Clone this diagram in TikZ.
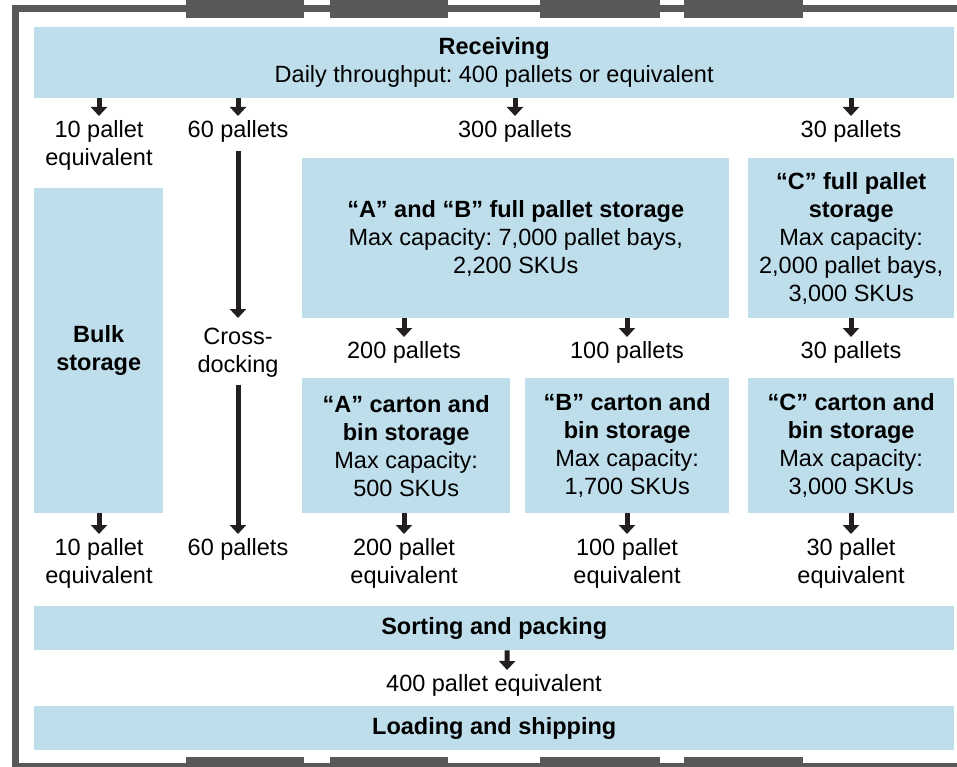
\documentclass[tikz,border=0pt]{standalone}
\usepackage{fontspec}
\setmainfont{Liberation Sans}
\usepackage{tikz}
\usetikzlibrary{arrows,calc,arrows.meta,positioning}
\definecolor{wall}{HTML}{58595B}
\definecolor{boxblue}{HTML}{BFDEEC}
\definecolor{ink}{HTML}{231F20}
\frenchspacing

\begin{document}
\begin{tikzpicture}[x=1pt,y=-1pt,>={Triangle[length=9pt,width=16pt]},
    area/.style={fill=boxblue,inner sep=0pt,anchor=north west,align=center,font=\fontsize{23.5}{28}\selectfont},
    lbl/.style={inner sep=0pt,anchor=north,align=center,font=\fontsize{23.5}{28}\selectfont},
    flow/.style={->,draw=ink,fill=ink,line width=5pt}]
        \newcommand{\gap}{4pt}
        \clip (0,0) rectangle (957,767);
        % walls and dock doors
        \draw[wall,line width=7pt] (15.5,8.5) rectangle (970,766);
        \foreach \x/\w in {186/118,330/118,540/120,684/119}{
            \fill[wall] (\x,0) rectangle ++(\w,18);
            \fill[wall] (\x,757) rectangle ++(\w,10);
        }

        % areas
        \node[area,minimum width=920pt,minimum height=71pt] (rcv) at (34,27) {\textbf{Receiving}\\Daily throughput: 400 pallets or equivalent};
        \node[area,minimum width=129pt,minimum height=325pt] (bulk) at (34,188) {\textbf{Bulk}\\\textbf{storage}};
        \node[area,minimum width=427pt,minimum height=160pt] (abfull) at (302,158) {\textbf{“A” and “B” full pallet storage}\\Max capacity: 7,000 pallet bays,\\2,200 SKUs};
        \node[area,minimum width=206pt,minimum height=160pt] (cfull) at (748,158) {\textbf{“C” full pallet}\\\textbf{storage}\\Max capacity:\\2,000 pallet bays,\\3,000 SKUs};
        \node[area,minimum width=208pt,minimum height=135pt] (acart) at (302,378) {\textbf{“A” carton and}\\\textbf{bin storage}\\Max capacity:\\500 SKUs};
        \node[area,minimum width=204pt,minimum height=135pt] (bcart) at (525,378) {\textbf{“B” carton and}\\\textbf{bin storage}\\Max capacity:\\1,700 SKUs};
        \node[area,minimum width=206pt,minimum height=135pt] (ccart) at (748,378) {\textbf{“C” carton and}\\\textbf{bin storage}\\Max capacity:\\3,000 SKUs};
        \node[area,minimum width=920pt,minimum height=44pt] (sort) at (34,606) {\textbf{Sorting and packing}};
        \node[area,minimum width=920pt,minimum height=44pt] (load) at (34,706) {\textbf{Loading and shipping}};

        % flow labels
        \node[lbl] (r1) at (99,120) {10 pallet\\equivalent};
        \node[lbl] (r2) at (238,120) {60 pallets};
        \node[lbl] (r3) at (515,120) {300 pallets};
        \node[lbl] (r4) at (851,120) {30 pallets};
        \node[lbl] (cross) at (238,328) {Cross-\\docking};
        \node[lbl] (m1) at (404,341) {200 pallets};
        \node[lbl] (m2) at (627,341) {100 pallets};
        \node[lbl] (m3) at (851,341) {30 pallets};
        \node[lbl] (b1) at (99,538) {10 pallet\\equivalent};
        \node[lbl] (b2) at (238,538) {60 pallets};
        \node[lbl] (b3) at (404,538) {200 pallet\\equivalent};
        \node[lbl] (b4) at (627,538) {100 pallet\\equivalent};
        \node[lbl] (b5) at (851,538) {30 pallet\\equivalent};
        \node[lbl] (out) at (494,674) {400 pallet equivalent};

        % flows
        \draw[flow,shorten >=\gap] (rcv.south -| r1.north) -- (r1.north);
        \draw[flow,shorten >=\gap] (rcv.south -| r2.north) -- (r2.north);
        \draw[flow,shorten >=\gap] (rcv.south -| r3.north) -- (r3.north);
        \draw[flow,shorten >=\gap] (rcv.south -| r4.north) -- (r4.north);
        \draw[flow,shorten <=9pt,shorten >=10pt] (r2.south) -- (cross.north);
        \draw[flow,shorten <=7pt,shorten >=\gap] (cross.south) -- (b2.north);
        \draw[flow,shorten >=\gap] (abfull.south -| m1.north) -- (m1.north);
        \draw[flow,shorten >=\gap] (abfull.south -| m2.north) -- (m2.north);
        \draw[flow,shorten >=\gap] (cfull.south -| m3.north) -- (m3.north);
        \draw[flow,shorten >=\gap] (bulk.south -| b1.north) -- (b1.north);
        \draw[flow,shorten >=\gap] (acart.south -| b3.north) -- (b3.north);
        \draw[flow,shorten >=\gap] (bcart.south -| b4.north) -- (b4.north);
        \draw[flow,shorten >=\gap] (ccart.south -| b5.north) -- (b5.north);
        \draw[flow,shorten >=\gap] ([xshift=13pt]sort.south) -- ([xshift=13pt]out.north);
\end{tikzpicture}
\end{document}
